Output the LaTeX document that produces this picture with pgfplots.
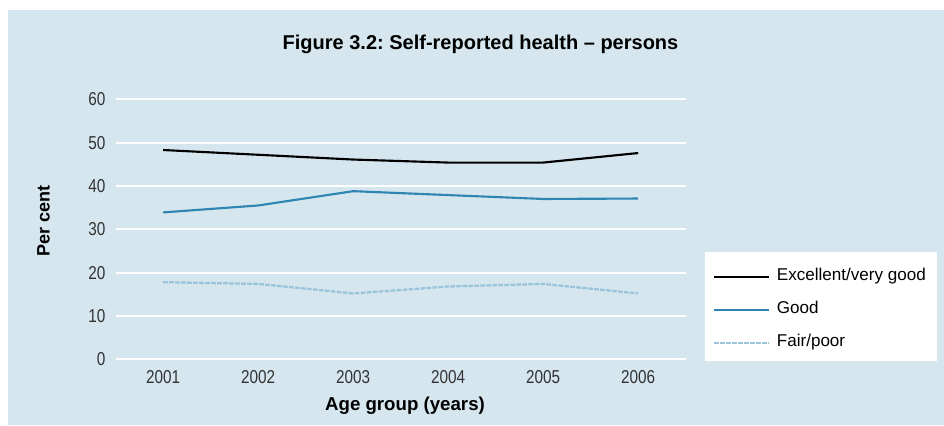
\documentclass[border=0pt]{standalone}
\usepackage{fontspec}
\setmainfont{Liberation Sans}
\newfontfamily\tickfont[FakeStretch=0.82]{Liberation Sans}
\usepackage{pgfplots}
\pgfplotsset{compat=1.18}
\frenchspacing

\definecolor{bgblue}{HTML}{D5E6EE}
\definecolor{goodblue}{HTML}{2F86B3}
\definecolor{fairblue}{HTML}{9AC4DC}

% data: year, per cent
\pgfplotstableread{
year exc good fair
2001 48.3 33.9 17.8
2002 47.2 35.5 17.4
2003 46.1 38.8 15.2
2004 45.4 37.9 16.8
2005 45.4 37.0 17.4
2006 47.6 37.1 15.2
}\health

\begin{document}
\begin{tikzpicture}[x=0.75pt, y=-0.75pt]
% canvas and panel (pixel units, y down)
\fill[white] (0,0) rectangle (944,425);
\fill[bgblue] (8,10) rectangle (944,425);
\fill[white] (705,252) rectangle (937,361);

\node[anchor=base, font=\bfseries\fontsize{15}{18}\selectfont] at (480.5,49.3)
  {Figure 3.2: Self-reported health -- persons};
\node[rotate=90, font=\bfseries\fontsize{13.5}{16}\selectfont] at (43.5,221) {Per cent};
\node[anchor=base, font=\bfseries\fontsize{14}{17}\selectfont] at (405,410) {Age group (years)};

\begin{axis}[
    at={(86.775pt,-269.475pt)}, anchor=south west,
    scale only axis,
    width=427.5pt, height=195pt,
    xmin=2000.5, xmax=2006.5,
    ymin=0, ymax=60,
    xtick={2001,2002,2003,2004,2005,2006},
    ytick={0,10,20,30,40,50,60},
    axis line style={draw=none},
    major tick length=0pt,
    ymajorgrids=true, xmajorgrids=false,
    grid style={white, line width=1.3pt},
    /pgf/number format/1000 sep={},
    /pgf/number format/assume math mode=true,
    tick label style={font=\tickfont\fontsize{14}{16}\selectfont, text=black!80},
    yticklabel style={inner sep=0pt, xshift=-7.5pt},
    xticklabel style={inner sep=0pt, yshift=-8pt},
    legend style={
        draw=none, fill=none,
        at={(1.0479,0.3485)}, anchor=north west,
        inner xsep=0pt, inner ysep=0pt,
        row sep=12.75pt, column sep=5pt,
        nodes={inner sep=0pt, text height=9pt, text depth=3pt},
        font=\fontsize{12.8}{15}\selectfont,
    },
    legend cell align=left,
    legend image code/.code={\draw[#1] (0pt,0pt) -- (41pt,0pt);},
]
\addplot[black, line width=1.6pt] table[x=year, y=exc] {\health};
\addplot[goodblue, line width=1.6pt] table[x=year, y=good] {\health};
\addplot[fairblue, line width=1.7pt, dash pattern=on 3.5pt off 1pt] table[x=year, y=fair] {\health};
\legend{Excellent/very good, Good, Fair/poor}
\end{axis}
\end{tikzpicture}
\end{document}
